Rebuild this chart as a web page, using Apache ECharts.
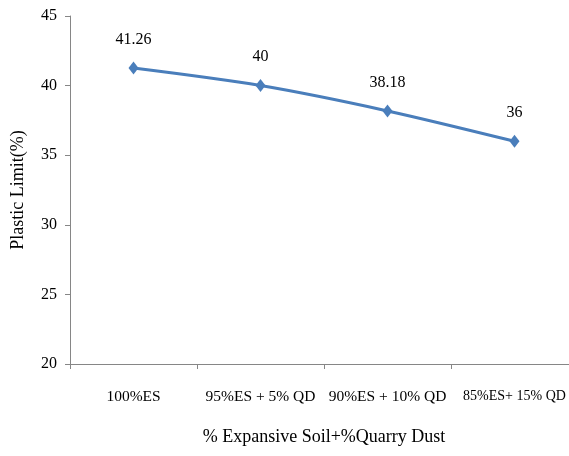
<!DOCTYPE html>
<html>
<head>
<meta charset="utf-8">
<script src="https://cdn.jsdelivr.net/npm/echarts@6/dist/echarts.min.js"></script>
<style>html,body{margin:0;padding:0;background:#fff}#chart{width:569px;height:456px}</style>
</head>
<body>
<div id="chart"></div>
<script>
// Plastic limit for expansive soil blended with quarry dust
const categories = ['100%ES', '95%ES + 5% QD', '90%ES + 10% QD', '85%ES+ 15% QD'];
const plasticLimit = [41.26, 40, 38.18, 36];
const yTicks = { min: 20, max: 45, interval: 5 };

const font = 'Liberation Serif, Times New Roman, serif';
const axisGray = '#868686';

// the last category sits against the right edge, so it is set slightly tighter
const categoryData = categories.map((c, i) =>
  i === categories.length - 1 ? { value: c, textStyle: { fontSize: 14 } } : c
);

const chart = echarts.init(document.getElementById('chart'));
chart.setOption({
  animation: false,
  backgroundColor: '#fff',
  grid: { left: 70, top: 16, width: 508, height: 348, outerBoundsMode: 'none', containLabel: false },
  xAxis: {
    type: 'category',
    data: categoryData,
    boundaryGap: true,
    name: '% Expansive Soil+%Quarry Dust',
    nameLocation: 'middle',
    nameGap: 64,
    nameTextStyle: { fontFamily: font, fontSize: 18, color: '#000', verticalAlign: 'top' },
    axisLine: { lineStyle: { color: axisGray, width: 1 } },
    axisTick: { show: true, length: 5, alignWithLabel: false, lineStyle: { color: axisGray } },
    axisLabel: { fontFamily: font, fontSize: 15.5, color: '#000', margin: 25, interval: 0 },
    splitLine: { show: false }
  },
  yAxis: {
    type: 'value',
    min: yTicks.min,
    max: yTicks.max,
    interval: yTicks.interval,
    name: 'Plastic Limit(%)',
    nameLocation: 'middle',
    nameGap: 43,
    nameTextStyle: { fontFamily: font, fontSize: 18, color: '#000' },
    axisLine: { show: true, lineStyle: { color: axisGray, width: 1 } },
    axisTick: { show: true, length: 5, lineStyle: { color: axisGray } },
    axisLabel: { fontFamily: font, fontSize: 16, color: '#000', margin: 13 },
    splitLine: { show: false }
  },
  series: [{
    type: 'line',
    data: plasticLimit,
    smooth: 0.3,
    symbol: 'diamond',
    symbolSize: [10, 13],
    lineStyle: { color: '#4A7EBB', width: 3 },
    itemStyle: { color: '#4A7EBB' },
    label: {
      show: true,
      position: 'top',
      distance: 14,
      fontFamily: font,
      fontSize: 16,
      color: '#000'
    }
  }]
});
</script>
</body>
</html>
